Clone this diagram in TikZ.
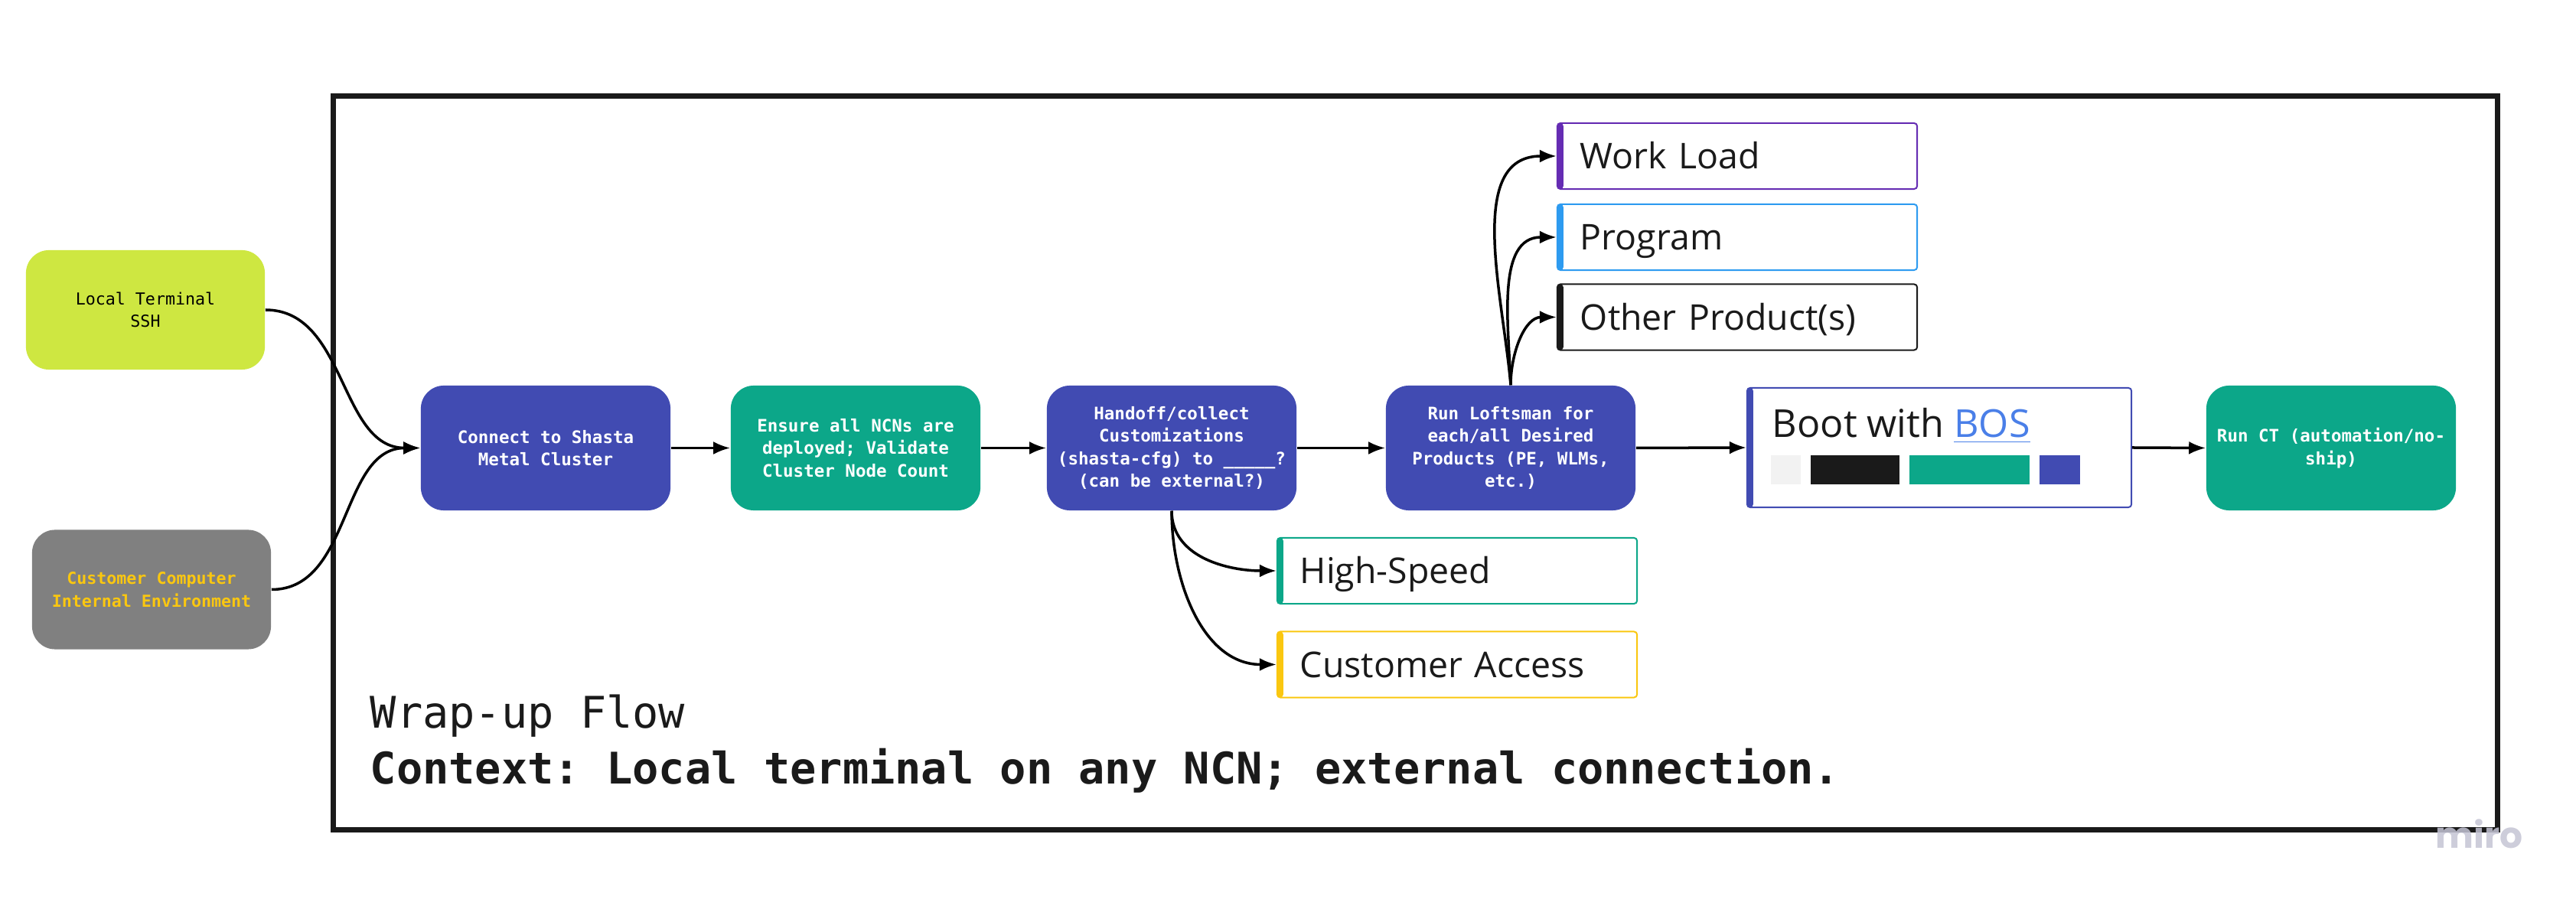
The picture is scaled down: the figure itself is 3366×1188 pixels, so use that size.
\documentclass[tikz,border=0pt]{standalone}
\usepackage{fontspec}
\setmonofont{DejaVu Sans Mono}
\newfontfamily\cardfont{Open Sans}
\newfontfamily\markfont{Poppins}
\usetikzlibrary{arrows.meta}
\usetikzlibrary{positioning}

\definecolor{miroBlue}{HTML}{414BB2}
\definecolor{miroGreen}{HTML}{0CA789}
\definecolor{miroLime}{HTML}{CEE741}
\definecolor{miroGray}{HTML}{808080}
\definecolor{miroYellow}{HTML}{FAC710}
\definecolor{miroPurple}{HTML}{652CB3}
\definecolor{miroSky}{HTML}{2D9BF0}
\definecolor{miroBlack}{HTML}{1A1A1A}
\definecolor{linkBlue}{HTML}{4A7FE8}
\definecolor{barGray}{HTML}{F2F2F2}
\definecolor{markGray}{HTML}{C4C4D4}

\begin{document}
\begin{tikzpicture}[x=0.01cm,y=0.01cm]
				\tikzset{procbox/.style = {shape=rectangle, rounded corners=0.3cm,
						minimum width=3.26cm, minimum height=1.63cm, inner sep=0pt,
						align=center, text=white,
						font=\ttfamily\bfseries\fontsize{6.4}{8.4}\selectfont}}
				\tikzset{srcbox/.style = {procbox, minimum width=3.12cm,
						minimum height=1.56cm,
						font=\ttfamily\fontsize{6.15}{8.4}\selectfont}}
				\tikzset{cardbox/.style = {shape=rectangle, draw=#1,
						line width=0.02cm, fill=white, rounded corners=0.04cm,
						minimum width=4.70cm, minimum height=0.86cm,
						inner xsep=0.3cm, inner ysep=0pt, text width=4.1cm,
						text height=9.4pt, text depth=0pt, align=left,
						text=miroBlack, font=\cardfont\fontsize{13.2}{16}\selectfont,
						path picture={\fill[#1] (path picture bounding box.south west)
							rectangle ([xshift=0.08cm]path picture bounding box.north west);}}}
				\tikzset{edge/.style = {-{Latex[length=0.22cm,width=0.17cm]},
						line width=0.035cm, black}}
				\tikzset{caption/.style = {anchor=base west, inner sep=0pt,
						text=miroBlack}}
				
				\useasboundingbox (0,0) rectangle (3366,1188);
				
				% frame
				\draw[line width=0.07cm, miroBlack] (435.5,103) rectangle (3263,1062.5);
				
				% vertices
				\node[srcbox, fill=miroLime, text=black] (lt) at (190,783)
				{Local Terminal\\SSH};
				\node[srcbox, fill=miroGray, text=miroYellow,
				font=\ttfamily\bfseries\fontsize{6.15}{8.4}\selectfont] (cust) at (198,417.5)
				{Customer Computer\\Internal Environment};
				
				\node[procbox, fill=miroBlue] (conn) at (713,602.5)
				{Connect to Shasta\\Metal Cluster};
				\node[procbox, fill=miroGreen] (ens) at (1118,602.5)
				{Ensure all NCNs are\\deployed; Validate\\Cluster Node Count};
				\node[procbox, fill=miroBlue] (hand) at (1531,602.5)
				{Handoff/collect\\Customizations\\(shasta-cfg) to \_\_\_\_\_?\\(can be external?)};
				\node[procbox, fill=miroBlue] (loft) at (1974,602.5)
				{Run Loftsman for\\each/all Desired\\Products (PE, WLMs,\\etc.)};
				\node[procbox, fill=miroGreen] (ct) at (3046,602.5)
				{Run CT (automation/no-\\ship)};
				
				\node[cardbox=miroPurple] (wl) at (2270,984) {Work Load};
				\node[cardbox=miroSky] (prog) at (2270,878) {Program};
				\node[cardbox=miroBlack] (oth) at (2270,773.5) {Other Product(s)};
				\node[cardbox=miroGreen] (hs) at (1904,442) {High-Speed};
				\node[cardbox=miroYellow] (ca) at (1904,319.5) {Customer Access};
				
				\node[cardbox=miroBlue, minimum width=5.02cm, minimum height=1.56cm,
				text width=4.42cm, text height=0pt] (boot) at (2534,603) {};
				\node[caption, font=\cardfont\fontsize{14.3}{17}\selectfont] (boottxt)
				at (2315,616) {Boot with \textcolor{linkBlue}{\underline{BOS}}};
				\fill[barGray] (2314,593) rectangle (2353,555);
				\fill[miroBlack] (2366,593) rectangle (2482,555);
				\fill[miroGreen] (2495,593) rectangle (2652,555);
				\fill[miroBlue] (2665,593) rectangle (2718,555);
				
				\node[caption, font=\ttfamily\fontsize{16.2}{20}\selectfont] (title)
				at (483,236) {Wrap-up Flow};
				\node[caption, font=\ttfamily\bfseries\fontsize{16.2}{20}\selectfont] (ctx)
				at (483,163) {Context: Local terminal on any NCN; external connection.};
				
				%edges
				
				\draw[edge] (lt.east) to[out=0, in=180] (conn.west);
				\draw[edge] (cust.east) to[out=0, in=180] (conn.west);
				\draw[edge] (conn.east) to (ens.west);
				\draw[edge] (ens.east) to (hand.west);
				\draw[edge] (hand.east) to (loft.west);
				\draw[edge] (loft.east) to (boot.west);
				\draw[edge] (boot.east) to (ct.west);
				\draw[edge] (hand.south) to[out=-90, in=180] (hs.west);
				\draw[edge] (hand.south) to[out=-90, in=180] (ca.west);
				\draw[edge] (loft.north) to[out=95, in=180] (wl.west);
				\draw[edge] (loft.north) to[out=92, in=180] (prog.west);
				\draw[edge] (loft.north) to[out=90, in=180] (oth.west);
				
				% watermark
				\node[caption, text=markGray, opacity=0.85,
				font=\markfont\bfseries\fontsize{13.4}{16}\selectfont] (mark)
				at (3182,79) {miro};
				
				\end{tikzpicture}
\end{document}
